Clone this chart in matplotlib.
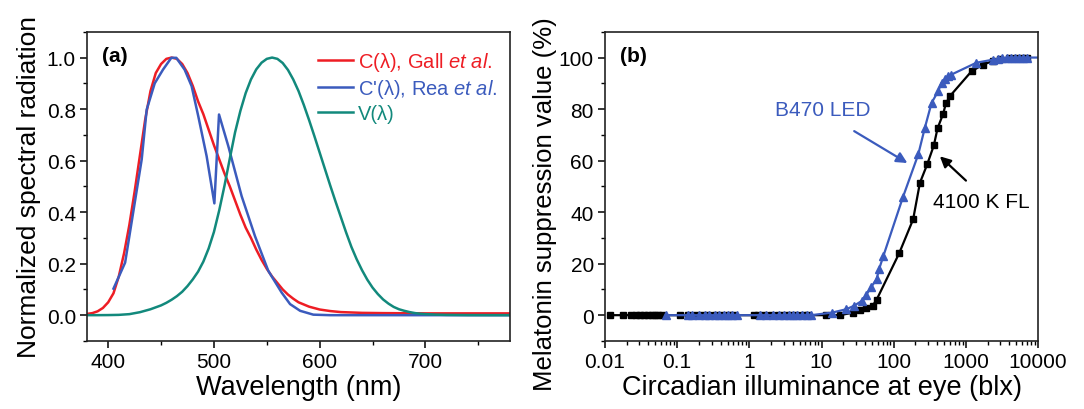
import matplotlib
matplotlib.use("Agg")
import matplotlib.pyplot as plt
from matplotlib.ticker import MultipleLocator, LogLocator, NullFormatter, FixedLocator, FixedFormatter

plt.rcParams['font.family'] = ['Liberation Sans', 'DejaVu Sans']
plt.rcParams['mathtext.fontset'] = 'custom'
plt.rcParams['mathtext.rm'] = 'Liberation Sans'
plt.rcParams['mathtext.it'] = 'Liberation Sans:italic'

# panel (a) spectra
red_wl = [380, 385, 390, 395, 400, 405, 410, 415, 420, 425, 430, 435, 440, 445,
          450, 455, 460, 465, 470, 475, 480, 485, 490, 495, 500, 505, 510, 515,
          520, 525, 530, 535, 540, 545, 550, 555, 560, 565, 570, 575, 580, 590,
          600, 610, 620, 640, 660, 700, 780]
red_val = [0.005, 0.008, 0.015, 0.028, 0.05, 0.085, 0.15, 0.24, 0.35, 0.48, 0.62,
           0.76, 0.87, 0.94, 0.975, 0.995, 1.0, 0.995, 0.975, 0.94, 0.89, 0.83,
           0.78, 0.72, 0.66, 0.605, 0.55, 0.5, 0.445, 0.39, 0.34, 0.3, 0.255,
           0.215, 0.18, 0.15, 0.125, 0.1, 0.08, 0.064, 0.05, 0.033, 0.022, 0.016,
           0.012, 0.009, 0.008, 0.007, 0.007]

blue_wl = [405, 416, 431.7, 436.4, 444, 451.8, 459.7, 464.4, 472.3, 478.9, 485.2,
           493.1, 500.4, 504.8, 513.6, 526.2, 538.8, 551.4, 564, 572, 581.5, 594,
           610, 780]
blue_val = [0.103, 0.204, 0.605, 0.798, 0.90, 0.953, 0.999, 0.999, 0.953, 0.889,
            0.772, 0.617, 0.434, 0.779, 0.656, 0.462, 0.307, 0.172, 0.088, 0.043,
            0.017, 0.002, 0.0, 0.0]

green_wl = [380, 390, 400, 410, 420, 430, 440, 450, 455, 460, 465, 470, 475, 480,
            485, 490, 495, 500, 505, 510, 515, 520, 525, 530, 535, 540, 545, 550,
            555, 560, 565, 570, 575, 580, 585, 590, 595, 600, 605, 610, 615, 620,
            625, 630, 635, 640, 645, 650, 655, 660, 665, 670, 675, 680, 685, 690,
            695, 700, 710, 720, 740, 760, 780]
green_val = [0.0, 0.0001, 0.0004, 0.0012, 0.004, 0.0116, 0.023, 0.038, 0.048, 0.06,
             0.074, 0.091, 0.113, 0.139, 0.169, 0.208, 0.259, 0.323, 0.407, 0.503,
             0.608, 0.71, 0.793, 0.862, 0.915, 0.954, 0.98, 0.995, 1.0, 0.995,
             0.979, 0.952, 0.915, 0.87, 0.816, 0.757, 0.695, 0.631, 0.567, 0.503,
             0.441, 0.381, 0.321, 0.265, 0.217, 0.175, 0.138, 0.107, 0.082, 0.061,
             0.045, 0.032, 0.023, 0.017, 0.012, 0.0082, 0.0057, 0.0041, 0.0021,
             0.00105, 0.00025, 0.00006, 0.0]

# panel (b) melatonin suppression
fl_lux = [0.0117, 0.018, 0.023, 0.027, 0.031, 0.035, 0.04, 0.045, 0.05, 0.055,
          0.061, 0.11, 0.14, 0.18, 0.22, 0.27, 0.33, 0.4, 0.5, 0.6, 1.15, 1.3,
          1.6, 2.0, 2.5, 3.0, 3.7, 4.5, 5.5, 6.5, 11.7, 18, 27.6, 34, 42, 51, 58,
          119, 186, 231, 291, 360, 405, 485, 529, 600, 1200, 1740, 2400, 3000,
          4000, 5000, 6000, 7000]
fl_supp = [0] * 32 + [1, 1.9, 2.6, 3.6, 6, 24, 37.2, 51.4, 58.5, 65.9, 72.5,
                      78.2, 82.2, 85, 94.7, 97.3, 98.7, 99.5, 100, 100, 100, 100]

led_lux = [0.07, 0.14, 0.16, 0.2, 0.24, 0.28, 0.33, 0.38, 0.44, 0.5, 0.58, 0.68,
           1.4, 1.7, 2.1, 2.6, 3.0, 3.5, 4.0, 4.6, 5.3, 6.2, 7.2, 14, 22, 28, 36,
           42, 49, 58, 63, 72, 135, 219, 270, 335, 414, 460, 513, 569, 631, 1400,
           2400, 2800, 3200, 3700, 4200, 4800, 5400, 6100, 7000, 10000]
led_supp = [0] * 23 + [1, 2.3, 3.6, 5.5, 8, 11, 14, 18, 23, 46, 62.4, 72.7, 82.4,
                       87, 90.2, 91.5, 92.8, 93.4, 98, 99.2, 99.5, 99.7, 100, 100,
                       100, 100, 100, 100, 100]

RED = '#ee1d24'
BLUE = '#3b5bbd'
GREEN = '#12897c'

fig = plt.figure(figsize=(10.84, 4.10), dpi=100)
ax1 = fig.add_axes([0.0803, 0.166, 0.3902, 0.754])
ax2 = fig.add_axes([0.5581, 0.166, 0.3995, 0.754])

ax1.plot(red_wl, red_val, color=RED, lw=1.8, label='C(λ), Gall $\\mathit{et\\ al}$.')
ax1.plot(blue_wl, blue_val, color=BLUE, lw=1.8, label="C'(λ), Rea $\\mathit{et\\ al}$.")
ax1.plot(green_wl, green_val, color=GREEN, lw=1.8, label='V(λ)')
ax1.set_xlim(380, 780)
ax1.set_ylim(-0.1, 1.1)
ax1.xaxis.set_major_locator(MultipleLocator(100))
ax1.xaxis.set_minor_locator(MultipleLocator(50))
ax1.yaxis.set_major_locator(MultipleLocator(0.2))
ax1.yaxis.set_minor_locator(MultipleLocator(0.1))
ax1.yaxis.set_major_formatter(matplotlib.ticker.FormatStrFormatter('%.1f'))
ax1.set_xlabel('Wavelength (nm)', fontsize=19.5, labelpad=2)
ax1.set_ylabel('Normalized spectral radiation', fontsize=19, labelpad=4)
ax1.text(0.035, 0.955, '(a)', transform=ax1.transAxes, fontsize=15,
         fontweight='bold', va='top', ha='left')
leg = ax1.legend(loc='upper left', bbox_to_anchor=(0.546, 0.94), frameon=False,
                 fontsize=14.5, handlelength=1.75, handletextpad=0.25,
                 labelspacing=0.2, borderpad=0, borderaxespad=0,
                 labelcolor='linecolor')

ax2.plot(fl_lux, fl_supp, color='black', lw=1.6, marker='s', ms=4.8)
ax2.plot(led_lux, led_supp, color=BLUE, lw=1.6, marker='^', ms=6,
         markevery=list(range(len(led_lux) - 1)))
ax2.set_xscale('log')
ax2.set_xlim(0.01, 10000)
ax2.set_ylim(-10, 110)
ticks = [0.01, 0.1, 1, 10, 100, 1000, 10000]
ax2.xaxis.set_major_locator(FixedLocator(ticks))
ax2.xaxis.set_major_formatter(FixedFormatter(['0.01', '0.1', '1', '10', '100', '1000', '10000']))
ax2.xaxis.set_minor_locator(LogLocator(base=10, subs=range(2, 10), numticks=20))
ax2.xaxis.set_minor_formatter(NullFormatter())
ax2.yaxis.set_major_locator(MultipleLocator(20))
ax2.yaxis.set_minor_locator(MultipleLocator(10))
ax2.set_xlabel('Circadian illuminance at eye (blx)', fontsize=19.5, labelpad=2)
ax2.set_ylabel('Melatonin suppression value (%)', fontsize=18.5)
ax2.yaxis.set_label_coords(-0.11, 0.445)
ax2.text(0.035, 0.955, '(b)', transform=ax2.transAxes, fontsize=15,
         fontweight='bold', va='top', ha='left')

ax2.annotate('', xy=(167, 58.5), xytext=(26.3, 72),
             arrowprops=dict(arrowstyle='-|>', color=BLUE, lw=1.6, mutation_scale=16))
ax2.text(10.5, 80, 'B470 LED', color=BLUE, fontsize=15, ha='center', va='center')
ax2.annotate('', xy=(409, 62.4), xytext=(1070, 51.5),
             arrowprops=dict(arrowstyle='-|>', color='black', lw=1.6, mutation_scale=16))
ax2.text(1620, 44.2, '4100 K FL', color='black', fontsize=15, ha='center', va='center')

for ax in (ax1, ax2):
    for sp in ax.spines.values():
        sp.set_linewidth(1.2)
        sp.set_color('#222222')
    ax.tick_params(which='major', direction='out', length=5, width=1.1,
                   labelsize=15, top=False, right=False, pad=3)
    ax.tick_params(which='minor', direction='out', length=3, width=1.0,
                   top=False, right=False)

fig.savefig('out.png', dpi=100)
